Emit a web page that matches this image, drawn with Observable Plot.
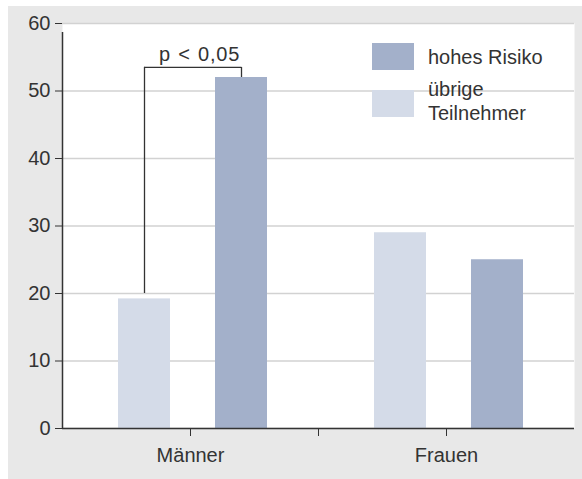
<!DOCTYPE html>
<html>
<head>
<meta charset="utf-8">
<script src="https://cdn.jsdelivr.net/npm/d3@7"></script>
<script src="https://cdn.jsdelivr.net/npm/@observablehq/plot@0.6"></script>
<style>
  html, body { margin: 0; padding: 0; background: #ffffff; }
  #wrap { position: relative; width: 582px; height: 479px; overflow: hidden; font-family: "Liberation Sans", Arial, sans-serif; color: #333; }
  #chart { position: absolute; left: 8px; top: 6px; }
  .lg-sw { position: absolute; width: 42px; height: 27px; }
  .lg-tx { position: absolute; font-size: 20px; line-height: 24px; white-space: nowrap; color: #333; }
  .sig text { letter-spacing: 0.8px; word-spacing: 1px; }
</style>
</head>
<body>
<div id="wrap">
  <div id="chart"></div>
</div>
<script>
// ---- data ----
const genders = ["Männer", "Frauen"];
const groups = ["hohes Risiko", "übrige Teilnehmer"];
const hohesRisiko = [52, 25];        // Männer, Frauen
const uebrige = [19.2, 29];          // Männer, Frauen
const yTicks = [0, 10, 20, 30, 40, 50, 60];
const sigLabel = "p < 0,05";
const sigTop = 53.5;
const sigLeftBase = 20;
const colors = ["#a3b0ca", "#d4dbe8"];  // hohes Risiko, übrige

const hohesData = genders.map((g, i) => ({gender: g, value: hohesRisiko[i]}));
const uebrigeData = genders.map((g, i) => ({gender: g, value: uebrige[i]}));
const bracket = [{gender: "Männer", left: sigLeftBase, right: hohesRisiko[0], top: sigTop}];

const ink = "#333333";

const chart = Plot.plot({
  width: 574,
  height: 473,
  marginLeft: 54,
  marginRight: 8,
  marginTop: 17,
  marginBottom: 51,
  style: {
    background: "#e8e8e8",
    fontFamily: "'Liberation Sans', Arial, sans-serif",
    fontSize: "20px",
    color: ink,
    overflow: "visible"
  },
  x: {domain: genders, padding: 0, label: null},
  y: {domain: [0, 60], label: null},
  marks: [
    Plot.frame({fill: "white", stroke: null}),
    Plot.gridY(yTicks, {stroke: "#d2d2d2", strokeOpacity: 1, strokeWidth: 1.5}),
    Plot.barY(uebrigeData, {x: "gender", y: "value", fill: colors[1], insetLeft: 56, insetRight: 148}),
    Plot.barY(hohesData, {x: "gender", y: "value", fill: colors[0], insetLeft: 153, insetRight: 51}),
    // significance bracket
    Plot.ruleX(bracket, {x: "gender", dx: -46, y1: "left", y2: "top", stroke: ink, strokeWidth: 1.3}),
    Plot.ruleX(bracket, {x: "gender", dx: 51, y1: "right", y2: "top", stroke: ink, strokeWidth: 1.3}),
    Plot.ruleY(bracket, {x1: "gender", x2: "gender", y: "top", insetLeft: 82, insetRight: 77, stroke: ink, strokeWidth: 1.3}),
    Plot.text(bracket, {x: "gender", y: "top", text: () => sigLabel, dx: 9, dy: -13, fill: ink, fontSize: 20, className: "sig"}),
    // axes
    Plot.ruleY([0], {stroke: ink, strokeWidth: 1.5}),
    Plot.ruleX(["Männer"], {x: d => d, dx: -128, y1: 0, y2: 60, insetBottom: -9, stroke: ink, strokeWidth: 1.5}),
    Plot.axisY(yTicks, {tickSize: 7, tickPadding: 5, fontSize: 20, stroke: ink, fill: ink}),
    Plot.axisX(genders, {tickSize: 8, tickPadding: 11, fontSize: 20, stroke: ink, fill: ink}),
    Plot.axisX(["Männer"], {tickSize: 8, dx: 128, text: null, stroke: ink})
  ]
});
document.getElementById("chart").appendChild(chart);

// ---- legend ----
const wrap = document.getElementById("wrap");
const legendItems = [
  {label: ["hohes Risiko"], color: colors[0], sw: 43, tx: 45},
  {label: ["übrige", "Teilnehmer"], color: colors[1], sw: 90, tx: 77}
];
legendItems.forEach(it => {
  const s = document.createElement("div");
  s.className = "lg-sw";
  s.style.left = "372px";
  s.style.top = it.sw + "px";
  s.style.background = it.color;
  wrap.appendChild(s);
  const t = document.createElement("div");
  t.className = "lg-tx";
  t.style.left = "428px";
  t.style.top = it.tx + "px";
  t.innerHTML = it.label.join("<br>");
  wrap.appendChild(t);
});
</script>
</body>
</html>
